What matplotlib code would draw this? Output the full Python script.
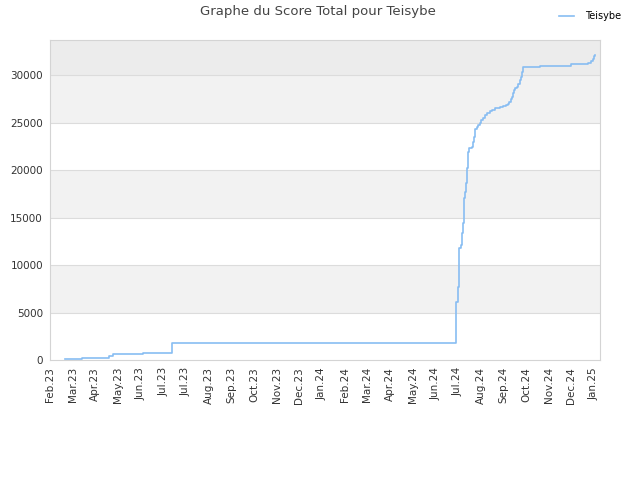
import matplotlib
matplotlib.use("Agg")
import matplotlib.pyplot as plt

# days since 1 Feb 2023, total score (step curve)
days = [20, 22, 42, 78, 83, 123, 161, 162, 537, 538, 540, 541, 544, 545, 546,
        548, 549, 551, 552, 553, 555, 559, 560, 561, 562, 563, 565, 567, 569,
        571, 573, 576, 579, 582, 585, 589, 592, 596, 600, 604, 606, 607, 610,
        612, 613, 614, 616, 618, 620, 622, 623, 624, 625, 626, 649, 690, 712,
        716, 719, 720, 721]
scores = [80, 150, 250, 450, 600, 700, 1000, 1750, 4200, 6140, 7720, 11750, 12100,
          13330, 14390, 17020, 17720, 18600, 20180, 21930, 22300, 22400, 23000,
          23500, 24030, 24300, 24560, 24750, 24910, 25260, 25500, 25790, 26000,
          26210, 26350, 26490, 26550, 26600, 26720, 26840, 27000, 27190, 27450,
          27720, 28100, 28420, 28600, 28770, 29100, 29470, 29650, 29820, 30300,
          30870, 30980, 31120, 31300, 31450, 31650, 32000, 32100]

tick_days = [30 * i for i in range(25)]
tick_labels = ["Feb.23", "Mar.23", "Apr.23", "May.23", "Jun.23", "Jul.23", "Jul.23",
               "Aug.23", "Sep.23", "Oct.23", "Nov.23", "Dec.23", "Jan.24", "Feb.24",
               "Mar.24", "Apr.24", "May.24", "Jun.24", "Jul.24", "Aug.24", "Sep.24",
               "Oct.24", "Nov.24", "Dec.24", "Jan.25"]
y_ticks = [0, 5000, 10000, 15000, 20000, 25000, 30000]

fig = plt.figure(figsize=(6.4, 4.8), dpi=100)
ax = fig.add_axes([50 / 640, 120 / 480, 550 / 640, 320 / 480])

ymax = 33700
ax.set_xlim(0, 728)
ax.set_ylim(0, ymax)

# alternating bands
for lo in (5000, 15000, 25000):
    ax.axhspan(lo, lo + 5000, color="#f2f2f2", zorder=0, lw=0)
ax.axhspan(30000, ymax, color="#ececec", zorder=0, lw=0)
for y in y_ticks[1:]:
    ax.axhline(y, color="#dcdcdc", lw=0.8, zorder=1)

ax.plot(days, scores, drawstyle="steps-post", color="#88bdf2", lw=1.2,
        label="Teisybe", zorder=3)

ax.set_xticks(tick_days)
ax.set_xticklabels(tick_labels, rotation=90, fontsize=7.5, color="#333333")
ax.set_yticks(y_ticks)
ax.set_yticklabels([str(v) for v in y_ticks], fontsize=7.5, color="#333333")
ax.tick_params(length=0, pad=5)

for s in ax.spines.values():
    s.set_color("#d4d4d4")
    s.set_linewidth(0.8)

fig.text(0.497, 0.975, "Graphe du Score Total pour Teisybe", ha="center", va="center",
         fontsize=9.5, color="#444444")
fig.legend(loc="upper right", bbox_to_anchor=(0.985, 0.995), frameon=False,
           fontsize=7, handlelength=1.5, handletextpad=1.2)

fig.savefig("out.png", dpi=100)
